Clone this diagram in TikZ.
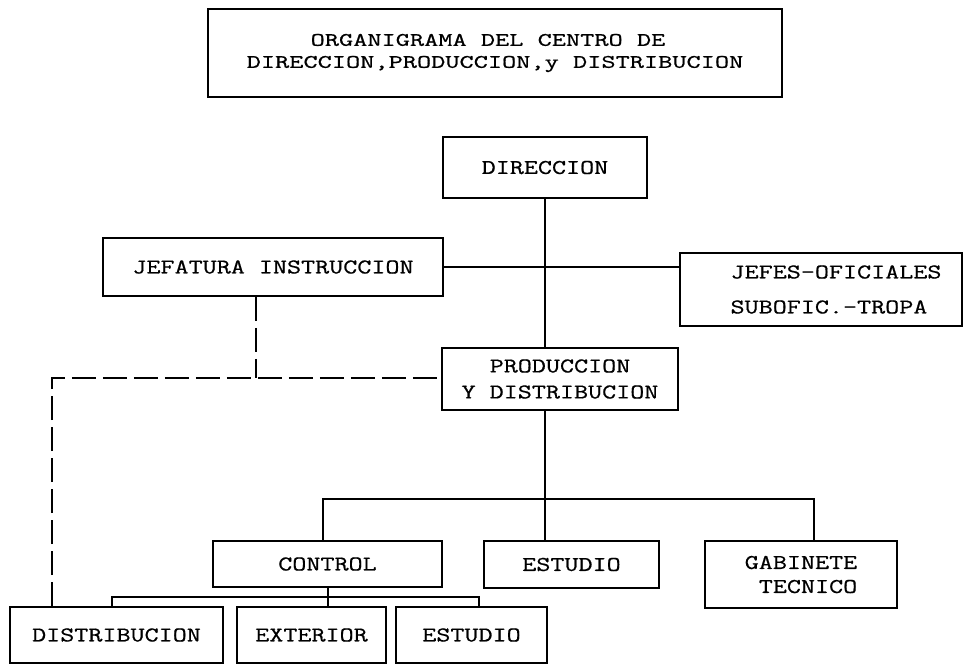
\documentclass[tikz,border=0pt]{standalone}
\usepackage{fontspec}
\newfontfamily\twbox{Latin Modern Mono}[FakeStretch=1.3, FakeBold=0.7]
\newfontfamily\twtitle{Latin Modern Mono}[FakeStretch=1.45, FakeBold=0.7]
\tikzset{
  box/.style={draw, line width=1.8pt, rectangle, inner sep=0pt, font=\twbox\fontsize{21}{26}\selectfont},
  conn/.style={line width=1.8pt},
  dconn/.style={line width=1.8pt, dash pattern=on 24pt off 7pt},
}
\begin{document}
\begin{tikzpicture}[x=1pt, y=-1pt]
\useasboundingbox (0,0) rectangle (976,665);
\fill[white] (0,0) rectangle (976,665);
% boxes
\node[box, minimum width=574pt, minimum height=88pt, align=center, font=\twtitle\fontsize{19}{22}\selectfont] (title) at (495,53) {ORGANIGRAMA DEL CENTRO DE\hspace*{14pt}\\DIRECCION,PRODUCCION,y DISTRIBUCION};
\node[box, minimum width=204pt, minimum height=61pt] (dir) at (545,167.5) {DIRECCION};
\node[box, minimum width=340pt, minimum height=58pt] (jef) at (273,267) {JEFATURA INSTRUCCION};
\node[box, minimum width=282pt, minimum height=73pt, align=left, font=\twbox\fontsize{21}{35}\selectfont] (jefes) at (821,289.5) {\hspace*{30pt}JEFES-OFICIALES\\\hspace*{30pt}SUBOFIC.-TROPA};
\node[box, minimum width=236pt, minimum height=62pt, align=center] (prod) at (560,379) {PRODUCCION\\Y DISTRIBUCION};
\node[box, minimum width=229pt, minimum height=46pt] (ctrl) at (327.5,564) {CONTROL};
\node[box, minimum width=175pt, minimum height=47pt] (est) at (571.5,564.5) {ESTUDIO};
\node[box, minimum width=192pt, minimum height=67pt, align=left, font=\twbox\fontsize{21}{24}\selectfont] (gab) at (801,574.5) {GABINETE\\\hphantom{G}TECNICO};
\node[box, minimum width=213pt, minimum height=56pt] (dist) at (116.5,635) {DISTRIBUCION};
\node[box, minimum width=149pt, minimum height=56pt] (ext) at (311.5,635) {EXTERIOR};
\node[box, minimum width=151pt, minimum height=56pt] (est2) at (471.5,635) {ESTUDIO};
% junction coordinates
\coordinate (t1) at (545,499);
\coordinate (hl) at (323,499);
\coordinate (hr) at (814,499);
\coordinate (c1) at (328,597);
\coordinate (cl) at (112,597);
\coordinate (cr) at (479,597);
\coordinate (dl) at (52,378);
\coordinate (dj) at (256,378);
% solid connectors
\draw[conn] (dir.south) -- (prod.north -| dir.south);
\draw[conn] (jef.east) -- (jef.east -| jefes.west);
\draw[conn] (prod.south -| t1) -- (t1);
\draw[conn] (ctrl.north -| hl) -- (hl) -- (hr) -- (hr |- gab.north);
\draw[conn] (t1) -- (t1 |- est.north);
\draw[conn] (ctrl.south -| c1) -- (c1 |- ext.north);
\draw[conn] (cl |- dist.north) -- (cl) -- (cr) -- (cr |- est2.north);
% dashed connectors
\draw[dconn] (jef.south -| dj) -- (dj);
\draw[dconn] (dist.north -| dl) -- (dl) -- (dl -| prod.west);
\end{tikzpicture}
\end{document}
